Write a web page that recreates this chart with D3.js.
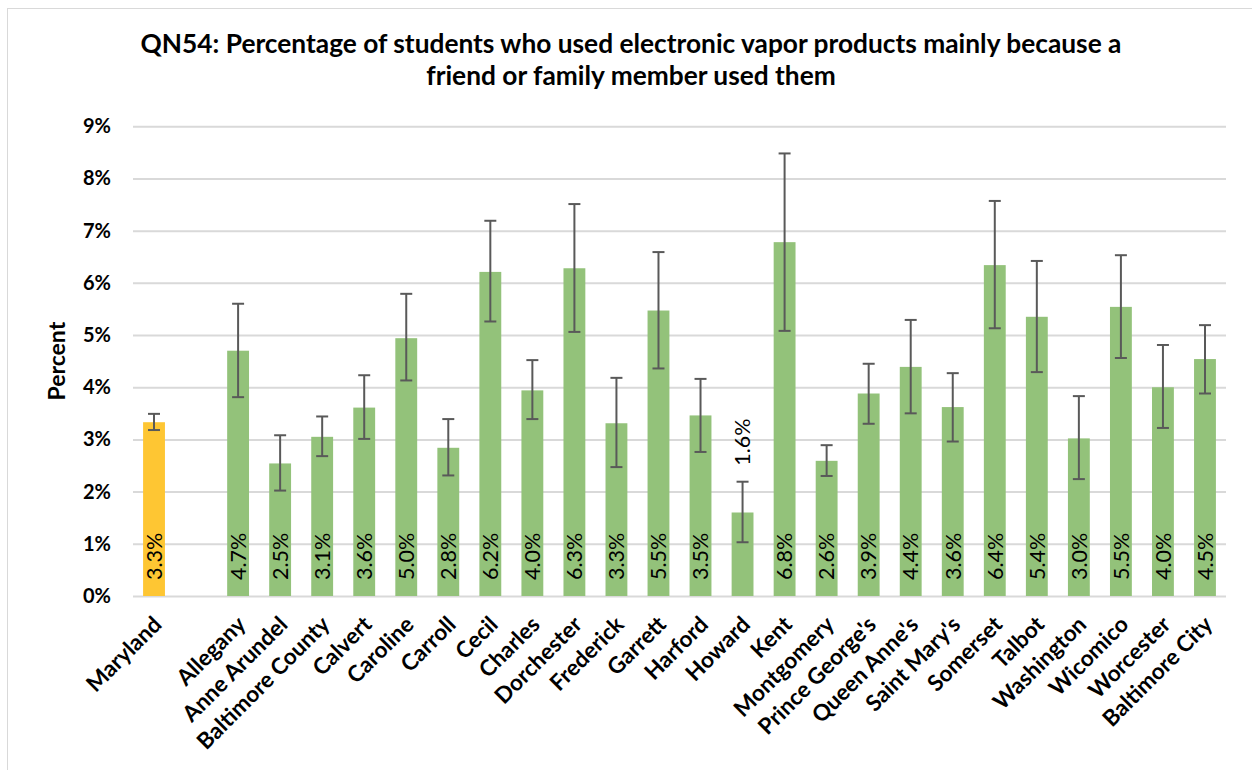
<!DOCTYPE html>
<html>
<head>
<meta charset="utf-8">
<script src="https://cdn.jsdelivr.net/npm/d3@7"></script>
<style>
  html, body { margin: 0; padding: 0; background: #fff; }
  svg { display: block; }
</style>
</head>
<body>
<svg id="chart" width="1252" height="770"></svg>
<script>
const titleLines = [
  "QN54: Percentage of students who used electronic vapor products mainly because a",
  "friend or family member used them"
];
const yAxisTitle = "Percent";
const categories = ["Maryland", "", "Allegany", "Anne Arundel", "Baltimore County", "Calvert", "Caroline", "Carroll", "Cecil", "Charles", "Dorchester", "Frederick", "Garrett", "Harford", "Howard", "Kent", "Montgomery", "Prince George's", "Queen Anne's", "Saint Mary's", "Somerset", "Talbot", "Washington", "Wicomico", "Worcester", "Baltimore City"];
const values = [3.33, null, 4.70, 2.54, 3.05, 3.61, 4.94, 2.84, 6.21, 3.94, 6.28, 3.31, 5.47, 3.46, 1.60, 6.78, 2.59, 3.88, 4.39, 3.62, 6.34, 5.35, 3.02, 5.54, 4.00, 4.54];
const lower  = [3.18, null, 3.81, 2.02, 2.68, 3.01, 4.13, 2.31, 5.26, 3.39, 5.06, 2.47, 4.36, 2.76, 1.03, 5.08, 2.30, 3.30, 3.50, 2.96, 5.13, 4.29, 2.24, 4.56, 3.22, 3.88];
const upper  = [3.49, null, 5.60, 3.08, 3.44, 4.23, 5.79, 3.39, 7.19, 4.52, 7.51, 4.18, 6.59, 4.16, 2.19, 8.48, 2.89, 4.45, 5.29, 4.27, 7.57, 6.42, 3.83, 6.53, 4.81, 5.19];
const labels = ["3.3%", "", "4.7%", "2.5%", "3.1%", "3.6%", "5.0%", "2.8%", "6.2%", "4.0%", "6.3%", "3.3%", "5.5%", "3.5%", "1.6%", "6.8%", "2.6%", "3.9%", "4.4%", "3.6%", "6.4%", "5.4%", "3.0%", "5.5%", "4.0%", "4.5%"];
const yTicks = [0, 1, 2, 3, 4, 5, 6, 7, 8, 9];

const svg = d3.select("#chart");
const W = 1252, H = 770;
const plot = { left: 133, right: 1226, top: 126.3, bottom: 596 };
const keys = categories.map((c, i) => i);

const x = d3.scaleBand().domain(keys).range([plot.left, plot.right]).paddingInner(0.48).paddingOuter(0.24);
const y = d3.scaleLinear().domain([0, 9]).range([plot.bottom, plot.top]);

// chart border
svg.append("rect").attr("x", 7.5).attr("y", 8.5).attr("width", W + 10).attr("height", H - 1)
  .attr("fill", "none").attr("stroke", "#d9d9d9").attr("stroke-width", 1);

// title
svg.append("g").selectAll("text").data(titleLines).join("text")
  .attr("x", 631).attr("y", (d, i) => 53 + i * 32)
  .attr("text-anchor", "middle")
  .attr("font-family", "Lato, 'Open Sans', sans-serif")
  .attr("font-weight", "bold").attr("font-size", 26.3)
  .attr("fill", "#000")
  .text(d => d);

// gridlines
const yAxis = d3.axisLeft(y).tickValues(yTicks).tickFormat(d => d + "%").tickSize(-(plot.right - plot.left)).tickPadding(22);
const gy = svg.append("g").attr("transform", `translate(${plot.left},0)`).call(yAxis);
gy.select(".domain").remove();
gy.selectAll(".tick line").attr("stroke", "#d9d9d9").attr("stroke-width", 2);
gy.selectAll(".tick text").attr("font-family", "Lato, sans-serif").attr("font-weight", "bold")
  .attr("font-size", 20).attr("fill", "#000");

// y title
svg.append("text").attr("transform", `translate(65,${(plot.top + plot.bottom) / 2}) rotate(-90)`)
  .attr("text-anchor", "middle").attr("font-family", "Lato, sans-serif").attr("font-weight", "bold")
  .attr("font-size", 23).attr("fill", "#000").text(yAxisTitle);

// bars
const data = keys.filter(i => values[i] !== null);
svg.append("g").selectAll("rect").data(data).join("rect")
  .attr("x", i => x(i)).attr("width", x.bandwidth())
  .attr("y", i => y(values[i])).attr("height", i => y(0) - y(values[i]))
  .attr("fill", i => i === 0 ? "#fec633" : "#93c27a");

// error bars
const eb = svg.append("g").attr("stroke", "#595959").attr("stroke-width", 2);
data.forEach(i => {
  const cx = x(i) + x.bandwidth() / 2;
  eb.append("line").attr("x1", cx).attr("x2", cx).attr("y1", y(lower[i])).attr("y2", y(upper[i]));
  eb.append("line").attr("x1", cx - 6).attr("x2", cx + 6).attr("y1", y(lower[i])).attr("y2", y(lower[i]));
  eb.append("line").attr("x1", cx - 6).attr("x2", cx + 6).attr("y1", y(upper[i])).attr("y2", y(upper[i]));
});

// data labels
svg.append("g").selectAll("text").data(data).join("text")
  .attr("transform", i => {
    const cx = x(i) + x.bandwidth() / 2;
    const inside = values[i] >= 2;
    const yy = inside ? plot.bottom - 16 : y(upper[i]) - 16;
    return `translate(${cx},${yy}) rotate(-90)`;
  })
  .attr("dy", "0.36em")
  .attr("text-anchor", "start")
  .attr("font-family", "Lato, sans-serif").attr("font-size", 21.5)
  .attr("fill", "#000")
  .text(i => labels[i]);

// x labels
svg.append("g").selectAll("text").data(keys.filter(i => categories[i] !== "")).join("text")
  .attr("transform", i => `translate(${x(i) + x.bandwidth() / 2 - 3},${614}) rotate(-45)`)
  .attr("dy", "0.75em")
  .attr("text-anchor", "end")
  .attr("font-family", "Lato, sans-serif").attr("font-weight", "bold").attr("font-size", 22.5)
  .attr("fill", "#000")
  .text(i => categories[i]);
</script>
</body>
</html>
